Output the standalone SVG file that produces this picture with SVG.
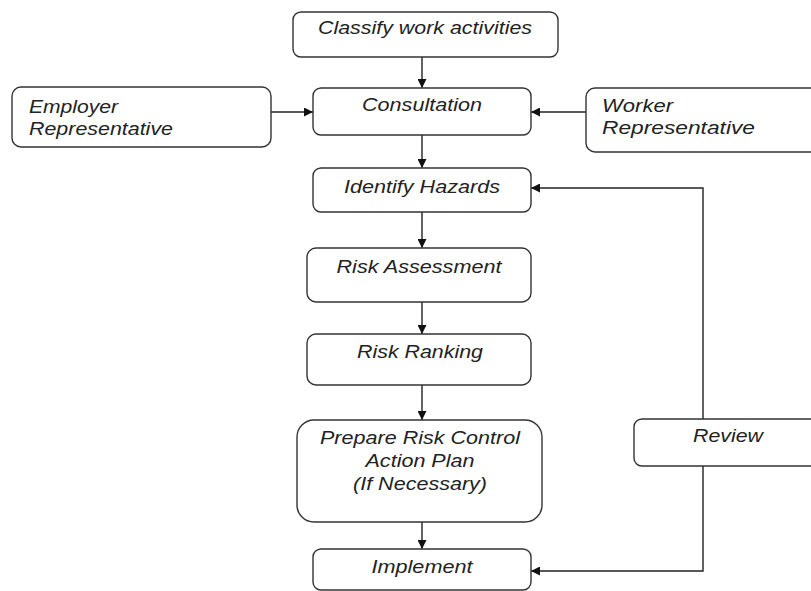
<svg xmlns="http://www.w3.org/2000/svg" width="811" height="591" viewBox="0 0 811 591">
<style>
.box{fill:#fff;stroke:#333;stroke-width:1.4}
.t{font-family:"Liberation Sans",Arial,sans-serif;font-style:italic;font-size:18px;fill:#222}
.b{font-size:19px}
.c{text-anchor:middle}
.ln{fill:none;stroke:#222;stroke-width:1.4}
</style>
<defs>
<marker id="ah" viewBox="0 0 10 10" refX="10" refY="5" markerWidth="9" markerHeight="9" markerUnits="userSpaceOnUse" orient="auto">
<path d="M0,0 L10,5 L0,10 z" fill="#111"/>
</marker>
</defs>
<rect width="811" height="591" fill="#fff"/>
<g id="connectors">
<line class="ln" x1="422" y1="57" x2="422" y2="88" marker-end="url(#ah)"/>
<line class="ln" x1="271" y1="112" x2="313" y2="112" marker-end="url(#ah)"/>
<line class="ln" x1="586" y1="112" x2="531" y2="112" marker-end="url(#ah)"/>
<line class="ln" x1="422" y1="135" x2="422" y2="168" marker-end="url(#ah)"/>
<line class="ln" x1="422" y1="212" x2="422" y2="248" marker-end="url(#ah)"/>
<line class="ln" x1="422" y1="302" x2="422" y2="334" marker-end="url(#ah)"/>
<line class="ln" x1="422" y1="385" x2="422" y2="420" marker-end="url(#ah)"/>
<line class="ln" x1="422" y1="522" x2="422" y2="549" marker-end="url(#ah)"/>
<polyline class="ln" points="703,419 703,188 531,188" marker-end="url(#ah)"/>
<polyline class="ln" points="703,466 703,571 531,571" marker-end="url(#ah)"/>
</g>
<g id="classify">
<rect class="box" x="293" y="12" width="265" height="45" rx="8"/>
<text class="t c" x="425" y="34" textLength="214" lengthAdjust="spacingAndGlyphs">Classify work activities</text>
</g>
<g id="employer">
<rect class="box" x="12" y="87" width="259" height="60" rx="9"/>
<text class="t" x="29" y="113" textLength="89" lengthAdjust="spacingAndGlyphs">Employer</text>
<text class="t" x="29" y="135" textLength="144" lengthAdjust="spacingAndGlyphs">Representative</text>
</g>
<g id="consultation">
<rect class="box" x="313" y="88" width="218" height="47" rx="8"/>
<text class="t c" x="422" y="111" textLength="120" lengthAdjust="spacingAndGlyphs">Consultation</text>
</g>
<g id="worker">
<rect class="box" x="586" y="88" width="240" height="64" rx="9"/>
<text class="t" x="602" y="112" textLength="71" lengthAdjust="spacingAndGlyphs">Worker</text>
<text class="t" x="602" y="134" textLength="153" lengthAdjust="spacingAndGlyphs">Representative</text>
</g>
<g id="identify">
<rect class="box" x="313" y="168" width="218" height="44" rx="8"/>
<text class="t c" x="422" y="193" textLength="156" lengthAdjust="spacingAndGlyphs">Identify Hazards</text>
</g>
<g id="assessment">
<rect class="box" x="307" y="248" width="224" height="54" rx="9"/>
<text class="t b c" x="419" y="273" textLength="165" lengthAdjust="spacingAndGlyphs">Risk Assessment</text>
</g>
<g id="ranking">
<rect class="box" x="307" y="334" width="224" height="51" rx="9"/>
<text class="t b c" x="420" y="358" textLength="126" lengthAdjust="spacingAndGlyphs">Risk Ranking</text>
</g>
<g id="plan">
<rect class="box" x="297" y="420" width="245" height="102" rx="17"/>
<text class="t b c" x="420" y="444" textLength="200" lengthAdjust="spacingAndGlyphs">Prepare Risk Control</text>
<text class="t b c" x="420" y="467" textLength="109" lengthAdjust="spacingAndGlyphs">Action Plan</text>
<text class="t b c" x="420" y="490" textLength="134" lengthAdjust="spacingAndGlyphs">(If Necessary)</text>
</g>
<g id="review">
<rect class="box" x="634" y="419" width="196" height="47" rx="8"/>
<text class="t b c" x="728" y="442" textLength="70" lengthAdjust="spacingAndGlyphs">Review</text>
</g>
<g id="implement">
<rect class="box" x="313" y="549" width="218" height="41" rx="8"/>
<text class="t b c" x="422" y="573" textLength="101" lengthAdjust="spacingAndGlyphs">Implement</text>
</g>
</svg>
